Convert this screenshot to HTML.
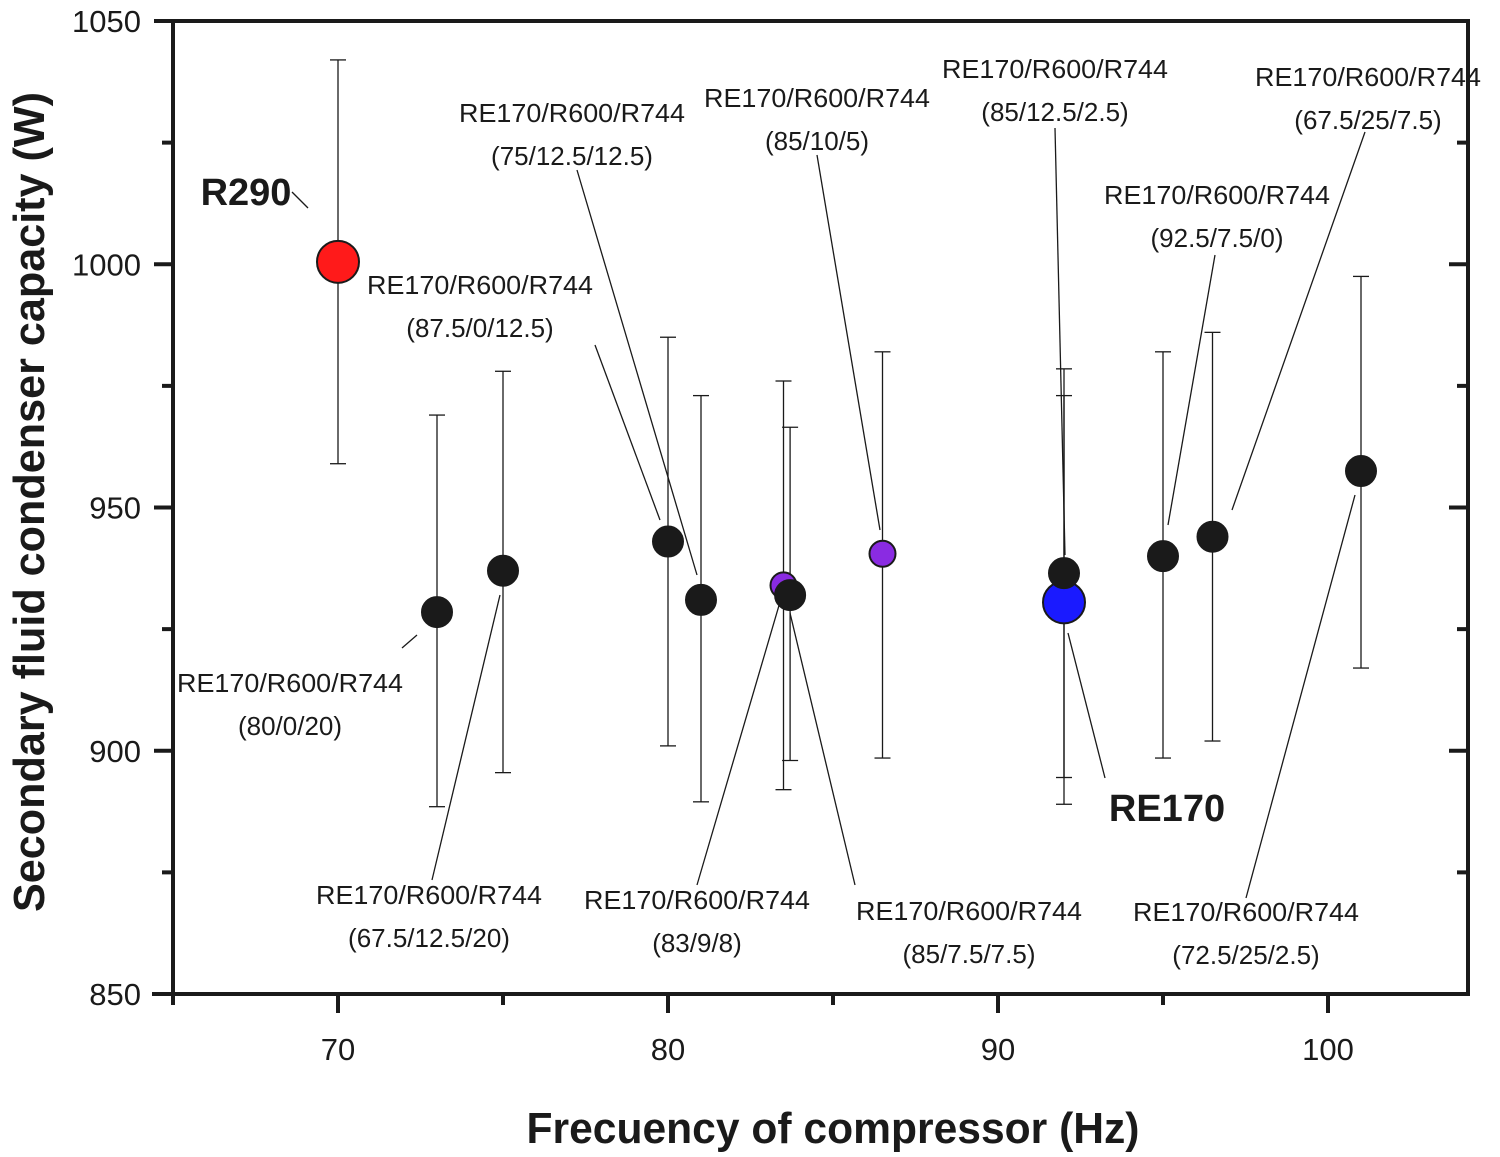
<!DOCTYPE html>
<html><head><meta charset="utf-8"><style>
html,body{margin:0;padding:0;background:#fff;}
svg{display:block;font-family:"Liberation Sans",sans-serif;}
</style></head><body>
<svg id="chart" width="1500" height="1157" viewBox="0 0 1500 1157"></svg>
<script>
const xs=[70,73,75,80,81,83.5,83.7,86.5,92,92,95,96.5,101];
const ys=[1000.5,928.5,937,943,931,934,932,940.5,930.5,936.5,940,944,957.5];
const errLow=[959,888.5,895.5,901,889.5,892,898,898.5,889,894.5,898.5,902,917];
const errHigh=[1042,969,978,985,973,976,966.5,982,973,978.5,982,986,997.5];
const colors=["#ff1a1a","#1a1a1a","#1a1a1a","#1a1a1a","#1a1a1a","#8a2be2","#1a1a1a","#8a2be2","#1a1aff","#1a1a1a","#1a1a1a","#1a1a1a","#1a1a1a"];
const sizes=[21,15,15,15,15,13,15,13,21,15,15,15,15];
const xTicks=[70,80,90,100];
const yTicks=[850,900,950,1000,1050];
const L=173,R=1468,T=21,B=994;
const xMin=65,xMax=65+(R-L)/33,yMin=850,yMax=1050;
const X=v=>L+(v-xMin)/(xMax-xMin)*(R-L);
const Y=v=>B-(v-yMin)/(yMax-yMin)*(B-T);
const svg=document.getElementById('chart');
const NS='http://www.w3.org/2000/svg';
function mk(tag,a,parent){const e=document.createElementNS(NS,tag);for(const k in a)e.setAttribute(k,a[k]);(parent||svg).appendChild(e);return e;}
// frame
let fr=mk('rect',{x:L,y:T,width:R-L,height:B-T,fill:'none',stroke:'#1a1a1a','stroke-width':4});


mk('line',{x1:152,y1:B,x2:R,y2:B,stroke:'#1a1a1a','stroke-width':4});
// x ticks
for(let v=65;v<=104;v+=5){const x=X(v);const major=v%10===0;
 mk('line',{x1:x,y1:B,x2:x,y2:B+(major?19:11),stroke:'#1a1a1a','stroke-width':4});}
xTicks.forEach(v=>{const t=mk('text',{x:X(v),y:1060,'text-anchor':'middle','font-size':31,fill:'#1a1a1a'});t.textContent=v;
 
 });
// y ticks
for(let v=850;v<=1050;v+=25){const y=Y(v);const major=v%50===0;
 mk('line',{x1:L-(major?19:11),y1:y,x2:L,y2:y,stroke:'#1a1a1a','stroke-width':4});
 mk('line',{x1:R,y1:y,x2:R-(major?19:11),y2:y,stroke:'#1a1a1a','stroke-width':4});}
yTicks.forEach(v=>{const t=mk('text',{x:141,y:Y(v)+11,'text-anchor':'end','font-size':31,fill:'#1a1a1a'});t.textContent=v;
 
 });
// titles
let xt=mk('text',{x:833,y:1143,'text-anchor':'middle','font-size':44,'font-weight':'bold',fill:'#1a1a1a',textLength:613,lengthAdjust:'spacingAndGlyphs'});
xt.textContent='Frecuency of compressor (Hz)';


let yt=mk('text',{x:0,y:0,'text-anchor':'middle','font-size':44,'font-weight':'bold',fill:'#1a1a1a',textLength:820,lengthAdjust:'spacingAndGlyphs',transform:'translate(44,502) rotate(-90)'});
yt.textContent='Secondary fluid condenser capacity (W)';


// leaders & labels
const ann=[
 [['RE170/R600/R744','(87.5/0/12.5)'],480,285,[595,345,660,520]],
 [['RE170/R600/R744','(75/12.5/12.5)'],572,113,[577,170,697,575]],
 [['RE170/R600/R744','(85/10/5)'],817,98,[817,155,880,530]],
 [['RE170/R600/R744','(85/12.5/2.5)'],1055,69,[1055,128,1065,555]],
 [['RE170/R600/R744','(67.5/25/7.5)'],1368,77,[1365,132,1232,510]],
 [['RE170/R600/R744','(92.5/7.5/0)'],1217,195,[1215,255,1168,525]],
 [['RE170/R600/R744','(80/0/20)'],290,683,[402,648,417,635]],
 [['RE170/R600/R744','(67.5/12.5/20)'],429,895,[432,880,500,595]],
 [['RE170/R600/R744','(83/9/8)'],697,900,[697,885,780,602]],
 [['RE170/R600/R744','(85/7.5/7.5)'],969,911,[855,885,790,613]],
 [['RE170/R600/R744','(72.5/25/2.5)'],1246,912,[1246,898,1355,495]]
];
ann.forEach(a=>{const l=a[3];
 mk('line',{x1:l[0],y1:l[1],x2:l[2],y2:l[3],stroke:'#1a1a1a','stroke-width':1.3});
 a[0].forEach((s,i)=>{const t=mk('text',{x:a[1],y:a[2]+9+i*43,'text-anchor':'middle','font-size':26,fill:'#1a1a1a',textLength:i==0?226:null,lengthAdjust:'spacingAndGlyphs'});
  if(i>0)t.removeAttribute('textLength');
  t.textContent=s;
  
  });});
mk('line',{x1:292,y1:192,x2:308,y2:208,stroke:'#1a1a1a','stroke-width':1.3});
mk('line',{x1:1105,y1:778,x2:1068,y2:633,stroke:'#1a1a1a','stroke-width':1.3});
let r1=mk('text',{x:246,y:205,'text-anchor':'middle','font-size':38,'font-weight':'bold',fill:'#1a1a1a'});r1.textContent='R290';


let r2=mk('text',{x:1167,y:821,'text-anchor':'middle','font-size':38,'font-weight':'bold',fill:'#1a1a1a'});r2.textContent='RE170';


// error bars & points
xs.forEach((v,i)=>{const x=X(v);
 const g=mk('g',{});
 
 
 mk('line',{x1:x,y1:Y(errLow[i]),x2:x,y2:Y(errHigh[i]),stroke:'#1a1a1a','stroke-width':1.3},g);
 [errLow[i],errHigh[i]].forEach(e=>mk('line',{x1:x-8,y1:Y(e),x2:x+8,y2:Y(e),stroke:'#1a1a1a','stroke-width':1.3},g));
});
xs.forEach((v,i)=>{const c=mk('circle',{cx:X(v),cy:Y(ys[i]),r:sizes[i],fill:colors[i],stroke:'#1a1a1a','stroke-width':2});
 
 });
</script>
</body></html>
